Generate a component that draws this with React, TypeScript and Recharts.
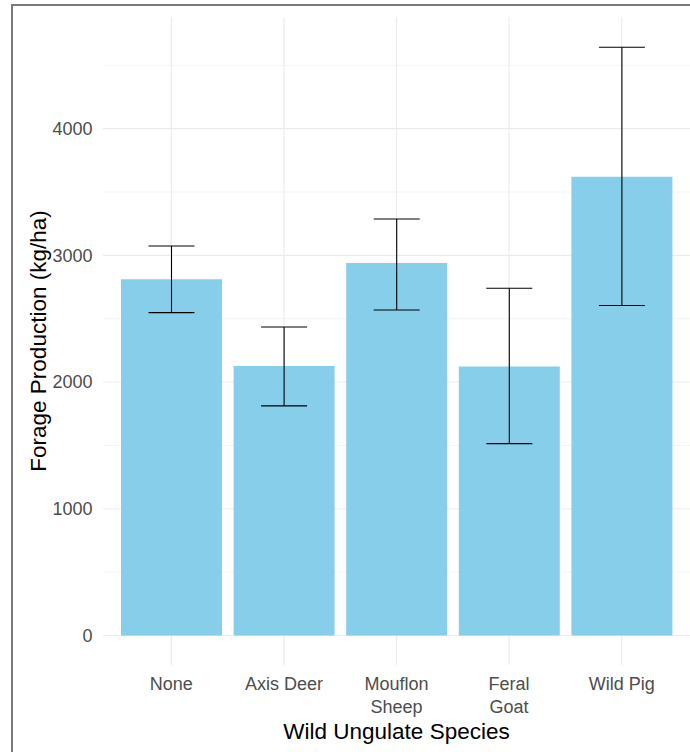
import React from 'react'
import { BarChart, Bar, XAxis, YAxis, CartesianGrid, ErrorBar, Label } from 'recharts'

const species = ['None', 'Axis Deer', 'Mouflon\nSheep', 'Feral\nGoat', 'Wild Pig']
const meanForage = [2811, 2127, 2940, 2122, 3621]
const lowerCI = [2548, 1812, 2569, 1514, 2604]
const upperCI = [3074, 2435, 3287, 2740, 4642]
const yTicks = [0, 1000, 2000, 3000, 4000]
const minorGrid = [500, 1500, 2500, 3500, 4500]

const data = species.map((s, i) => ({
  species: s,
  forage: meanForage[i],
  err: [meanForage[i] - lowerCI[i], upperCI[i] - meanForage[i]],
}))

const FONT = '"Liberation Sans", Arial, sans-serif'

function SpeciesTick({ x, y, payload }: any) {
  const lines = String(payload.value).split('\n')
  return (
    <text x={x} y={y} textAnchor="middle" fill="#4D4D4D" fontSize={18} fontFamily={FONT}>
      {lines.map((line, i) => (
        <tspan key={i} x={x} dy={i === 0 ? '0.72em' : 23}>
          {line}
        </tspan>
      ))}
    </text>
  )
}

function YTitle({ viewBox }: any) {
  const cx = viewBox.x + 46
  const cy = viewBox.y + viewBox.height / 2
  return (
    <text
      x={cx}
      y={cy}
      textAnchor="middle"
      fill="#000"
      fontSize={22.5}
      fontFamily={FONT}
      transform={`rotate(-90 ${cx} ${cy})`}
    >
      Forage Production (kg/ha)
    </text>
  )
}

export default function App() {
  return (
    <div style={{ position: 'fixed', inset: 0, overflow: 'hidden', background: '#fff' }}>
      <div
        style={{
          position: 'absolute',
          left: 11,
          top: 4,
          width: 800,
          height: 900,
          border: '2px solid #7a7a7a',
        }}
      />
      <div style={{ position: 'absolute', left: 0, top: 0 }}>
        <BarChart width={690} height={752} data={data} margin={{ top: 17, right: 0, left: 0, bottom: 0 }}>
          <CartesianGrid
            horizontalValues={minorGrid}
            vertical={false}
            syncWithTicks
            stroke="#EBEBEB"
            strokeWidth={0.6}
          />
          <CartesianGrid horizontalValues={yTicks} syncWithTicks stroke="#EBEBEB" strokeWidth={1.1} />
          <XAxis
            dataKey="species"
            height={87}
            padding={{ left: 12, right: 12 }}
            tickLine={false}
            axisLine={false}
            tickSize={0}
            tickMargin={12.5}
            tick={<SpeciesTick />}
            interval={0}
          >
            <Label
              value="Wild Ungulate Species"
              position="insideBottom"
              offset={13}
              fill="#000"
              fontSize={22.5}
              fontFamily={FONT}
            />
          </XAxis>
          <YAxis
            type="number"
            width={103}
            domain={[-233, 4881]}
            allowDataOverflow
            ticks={yTicks}
            tickLine={false}
            axisLine={false}
            tickSize={0}
            tickMargin={10.5}
            tick={{ fill: '#4D4D4D', fontSize: 18, fontFamily: FONT }}
          >
            <Label content={<YTitle />} />
          </YAxis>
          <Bar dataKey="forage" fill="#87CEEB" barSize={101} isAnimationActive={false}>
            <ErrorBar dataKey="err" width={23} stroke="#000" strokeWidth={1.1} isAnimationActive={false} />
          </Bar>
        </BarChart>
      </div>
    </div>
  )
}
